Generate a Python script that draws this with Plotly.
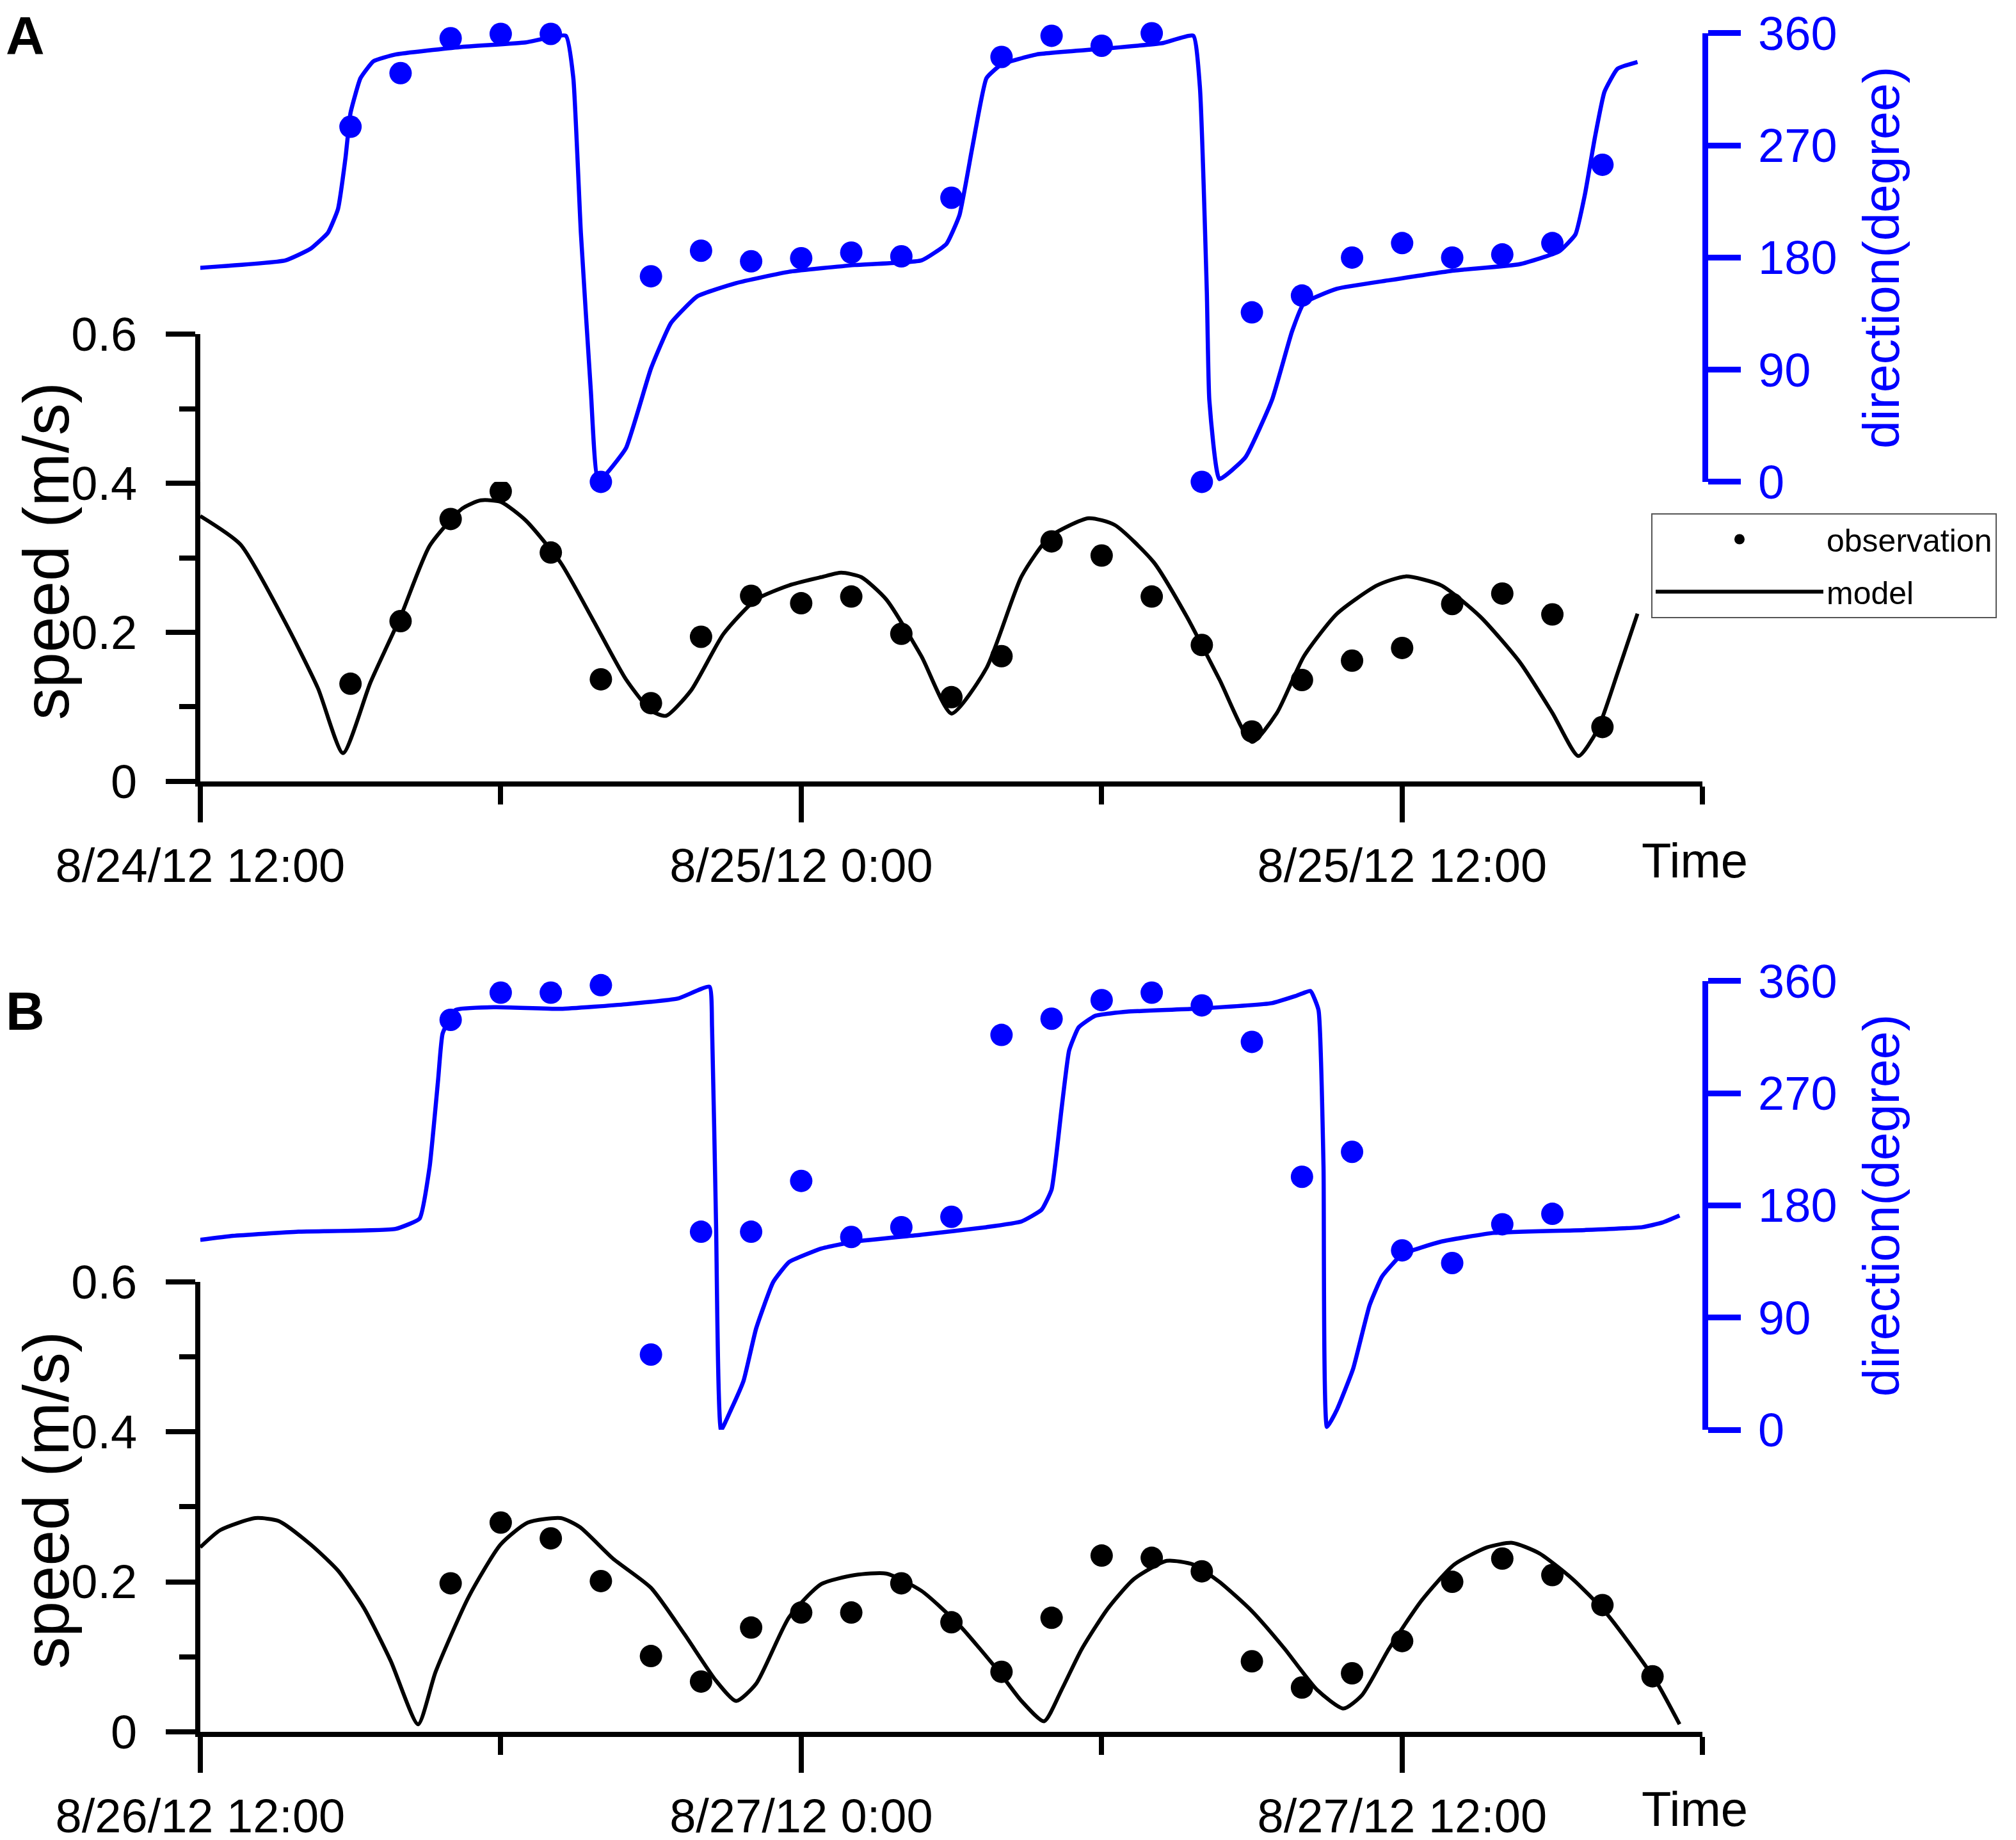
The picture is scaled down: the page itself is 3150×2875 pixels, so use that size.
import pandas as pd
import plotly.graph_objects as go

# ---- data (hours after the panel start time) ----
start_a = pd.Timestamp("2012-08-24 12:00")
start_b = pd.Timestamp("2012-08-26 12:00")
tick_text_a = ["8/24/12 12:00", "8/25/12 0:00", "8/25/12 12:00"]
tick_text_b = ["8/26/12 12:00", "8/27/12 0:00", "8/27/12 12:00"]
tick_hours = [0, 12, 24]

# panel A observations
obs_a_hours = [3, 4, 5, 6, 7, 8, 9, 10, 11, 12, 13, 14, 15, 16, 17, 18, 19, 20,
               21, 22, 23, 24, 25, 26, 27, 28]
obs_a_speed = [0.131, 0.215, 0.352, 0.389, 0.307, 0.137, 0.105, 0.194, 0.249,
               0.239, 0.248, 0.198, 0.113, 0.168, 0.322, 0.303, 0.248, 0.183,
               0.067, 0.136, 0.162, 0.179, 0.238, 0.252, 0.224, 0.073]
obs_a_dir = [285, 328, 356, 359.5, 359.5, 0, 165, 185.5, 177, 179.5, 184, 181,
             228, 341, 358, 350, 360, 0, 136, 149.5, 180, 191.6, 180, 182.5,
             191.6, 254.5]

# panel A model speed
mod_a_speed_hours = [0, 0.8, 1.7, 2.35, 2.85, 3.4, 4.0, 4.58, 5.23, 5.6, 6.0, 6.5,
                     7.2, 7.84, 8.5, 9.0, 9.3, 9.8, 10.45, 11.1, 11.76, 12.4,
                     12.8, 13.2, 13.7, 14.4, 15.0, 15.7, 16.4, 16.96, 17.74,
                     18.26, 19.04, 19.7, 20.35, 21.0, 21.5, 22.04, 22.7, 23.5,
                     24.07, 24.78, 25.56, 26.35, 27.0, 27.52, 27.9, 28.3, 28.7]
mod_a_speed = [0.356, 0.318, 0.213, 0.125, 0.038, 0.133, 0.221, 0.316, 0.366,
               0.377, 0.375, 0.35, 0.293, 0.217, 0.137, 0.095, 0.088, 0.122,
               0.198, 0.244, 0.263, 0.274, 0.28, 0.274, 0.244, 0.168, 0.091,
               0.152, 0.275, 0.328, 0.353, 0.344, 0.294, 0.221, 0.137, 0.053,
               0.092, 0.168, 0.225, 0.263, 0.275, 0.263, 0.221, 0.160, 0.092,
               0.034, 0.069, 0.145, 0.225]

# panel A model direction
mod_a_dir_hours = [0, 1.7, 2.2, 2.55, 2.75, 2.9, 3.0, 3.2, 3.46, 3.9, 5.2, 6.5,
                   7.3, 7.45, 7.6, 7.8, 7.93, 8.07, 8.5, 9.0, 9.4, 9.93, 10.7,
                   11.76, 13.07, 14.4, 14.9, 15.16, 15.42, 15.7, 16.0, 16.7,
                   18.0, 19.2, 19.83, 19.96, 20.1, 20.15, 20.35, 20.87, 21.4,
                   21.8, 22.04, 22.7, 23.74, 25.04, 26.35, 27.13, 27.46, 27.65,
                   27.85, 28.04, 28.3, 28.7]
mod_a_dir = [171.8, 177.7, 187, 200, 219, 260, 296, 324, 337.6, 343, 349, 352.7,
             358, 324, 200, 72.6, 4, 5, 27, 91, 127.5, 149, 159.5, 168.6, 174,
             177.7, 191, 214, 269, 324, 335, 343, 347.5, 352, 358, 317.7, 152.7,
             65.6, 2.3, 19.7, 65.6, 120.6, 143.5, 155, 161.8, 169.6, 174.7,
             184.8, 198.5, 230.6, 276.5, 313, 331.5, 337]

# panel B observations
obs_b_dir_hours = [5, 6, 7, 8, 9, 10, 11, 12, 13, 14, 15, 16, 17, 18, 19, 20, 21,
                   22, 23, 24, 25, 26, 27]
obs_b_dir = [328.9, 350.7, 350.7, 356.7, 60.4, 158.9, 158.9, 199.7, 154.7, 162.6,
             170.9, 316.8, 329.8, 344.7, 350.7, 340.5, 311.2, 203, 223, 144,
             133.8, 164.9, 173.3]
obs_b_speed_hours = [5, 6, 7, 8, 9, 10, 11, 12, 13, 14, 15, 16, 17, 18, 19, 20,
                     21, 22, 23, 24, 25, 26, 27, 28, 29]
obs_b_speed = [0.198, 0.279, 0.258, 0.201, 0.101, 0.067, 0.139, 0.159, 0.159,
               0.198, 0.146, 0.080, 0.152, 0.235, 0.232, 0.214, 0.094, 0.059,
               0.078, 0.121, 0.2, 0.231, 0.209, 0.169, 0.074]

# panel B model speed
mod_b_speed_hours = [0, 0.4, 1.1, 1.57, 2.2, 2.75, 3.27, 3.8, 4.35, 4.7, 5.36, 6.0,
                     6.54, 7.2, 7.58, 8.24, 9.0, 9.67, 10.3, 10.7, 11.1, 11.76,
                     12.4, 13.07, 13.7, 14.4, 15.16, 15.95, 16.4, 16.85, 17.2,
                     17.6, 18.13, 18.65, 19.3, 19.83, 20.35, 21.0, 21.65, 22.3,
                     22.83, 23.2, 23.74, 24.4, 25.04, 25.7, 26.2, 26.74, 27.4,
                     28.04, 28.7, 29.1, 29.54]
mod_b_speed = [0.246, 0.269, 0.285, 0.281, 0.25, 0.215, 0.165, 0.095, 0.01, 0.08,
               0.18, 0.25, 0.279, 0.285, 0.273, 0.231, 0.192, 0.13, 0.068, 0.041,
               0.064, 0.153, 0.197, 0.209, 0.211, 0.188, 0.142, 0.08, 0.041,
               0.014, 0.056, 0.11, 0.165, 0.204, 0.228, 0.223, 0.2, 0.161, 0.111,
               0.056, 0.031, 0.049, 0.111, 0.176, 0.223, 0.246, 0.252, 0.238,
               0.204, 0.161, 0.103, 0.064, 0.01]

# panel B model direction
mod_b_dir_hours = [0, 0.65, 1.96, 3.9, 4.38, 4.58, 4.75, 4.84, 5.1, 5.9, 7.2, 8.5,
                   9.54, 10.17, 10.22, 10.3, 10.4, 10.6, 10.85, 11.1, 11.44,
                   11.76, 12.4, 13.07, 14.4, 15.7, 16.4, 16.8, 17.0, 17.2, 17.35,
                   17.54, 17.87, 18.5, 19.83, 21.4, 21.9, 22.17, 22.33, 22.43,
                   22.5, 22.7, 23.02, 23.35, 23.6, 24.0, 24.78, 25.83, 27.65,
                   28.8, 29.2, 29.54]
mod_b_dir = [152.4, 155.6, 158.9, 161.2, 169.5, 211, 281, 318, 336.8, 339, 337.7,
             341.4, 346, 355.4, 322.8, 165, 0, 16.3, 39.5, 81.3, 118.5, 134.7,
             145.4, 151, 156.5, 162.6, 167.2, 176.5, 192.8, 257.8, 304.3, 322.8,
             332.1, 335.4, 337.7, 342.3, 348.4, 352, 336.8, 211.4, 2.3, 16.3,
             48.8, 99.9, 123, 140.7, 151, 158, 160.3, 162.6, 166.3, 171.9]

FONT = "Liberation Sans, Arial, sans-serif"
BLUE = "#0000ff"
TICK_SIZE = 74


def to_time(start, hours):
    return [start + pd.Timedelta(hours=h) for h in hours]


fig = go.Figure()

panels = [
    (start_a, "x", "y", "y2", obs_a_hours, obs_a_speed, obs_a_hours, obs_a_dir,
     mod_a_speed_hours, mod_a_speed, mod_a_dir_hours, mod_a_dir, True),
    (start_b, "x2", "y3", "y4", obs_b_speed_hours, obs_b_speed, obs_b_dir_hours,
     obs_b_dir, mod_b_speed_hours, mod_b_speed, mod_b_dir_hours, mod_b_dir, False),
]

for (start, xa, ys, yd, osh, osv, odh, odv, msh, msv, mdh, mdv, legend) in panels:
    fig.add_trace(go.Scatter(
        x=to_time(start, osh), y=osv, mode="markers", name="observation",
        marker=dict(color="black", size=35), xaxis=xa, yaxis=ys,
        legendgroup="obs", showlegend=legend, cliponaxis=False))
    fig.add_trace(go.Scatter(
        x=to_time(start, msh), y=msv, mode="lines", name="model",
        line=dict(color="black", width=6, shape="spline", smoothing=0.6),
        xaxis=xa, yaxis=ys, legendgroup="mod", showlegend=legend))
    fig.add_trace(go.Scatter(
        x=to_time(start, odh), y=odv, mode="markers", name="observation",
        marker=dict(color=BLUE, size=35), xaxis=xa, yaxis=yd,
        legendgroup="obs", showlegend=False, cliponaxis=False))
    fig.add_trace(go.Scatter(
        x=to_time(start, mdh), y=mdv, mode="lines", name="model",
        line=dict(color=BLUE, width=6.5, shape="spline", smoothing=0.4),
        xaxis=xa, yaxis=yd, legendgroup="mod", showlegend=False))


def x_axis(start, texts, anchor):
    return dict(
        domain=[0.0968, 0.842], anchor=anchor, type="date",
        range=[start, start + pd.Timedelta(hours=30)],
        tickvals=to_time(start, tick_hours), ticktext=texts,
        ticks="outside", ticklen=56, tickwidth=8, tickcolor="black",
        showline=True, linecolor="black", linewidth=8,
        showgrid=False, zeroline=False, automargin=False,
        tickfont=dict(size=TICK_SIZE, color="black", family=FONT),
        ticklabelstandoff=4,
        minor=dict(dtick=6 * 3600 * 1000, tick0=start, ticks="outside",
                   ticklen=28, tickwidth=8, tickcolor="black", showgrid=False),
    )


def speed_axis(domain, anchor):
    return dict(
        domain=domain, anchor=anchor, range=[0, 0.6], tick0=0, dtick=0.2,
        ticks="outside", ticklen=46, tickwidth=8, tickcolor="black",
        showline=True, linecolor="black", linewidth=8,
        showgrid=False, zeroline=False, automargin=False,
        tickfont=dict(size=TICK_SIZE, color="black", family=FONT),
        ticklabelstandoff=30,
        minor=dict(dtick=0.1, tick0=0, ticks="outside", ticklen=25,
                   tickwidth=8, tickcolor="black", showgrid=False),
    )


def dir_axis(domain, anchor):
    return dict(
        domain=domain, anchor=anchor, side="right", range=[0, 360],
        tick0=0, dtick=90, ticks="outside", ticklen=51, tickwidth=9,
        tickcolor=BLUE, showline=True, linecolor=BLUE, linewidth=9,
        showgrid=False, zeroline=False, automargin=False,
        tickfont=dict(size=TICK_SIZE, color=BLUE, family=FONT),
        ticklabelstandoff=12,
        title=dict(text="direction(degree)", standoff=46,
                   font=dict(size=79, color=BLUE, family=FONT)),
    )


fig.update_layout(
    width=3150, height=2875,
    margin=dict(l=0, r=0, t=0, b=0),
    paper_bgcolor="white", plot_bgcolor="white",
    font=dict(family=FONT, color="black"),
    xaxis=x_axis(start_a, tick_text_a, "y"),
    xaxis2=x_axis(start_b, tick_text_b, "y3"),
    yaxis=speed_axis([0.5781, 0.8212], "x"),
    yaxis2=dir_axis([0.7409, 0.9847], "x"),
    yaxis3=speed_axis([0.0616, 0.3061], "x2"),
    yaxis4=dir_axis([0.2257, 0.4696], "x2"),
    legend=dict(x=0.8165, y=0.724, xanchor="left", yanchor="top",
                bgcolor="white", bordercolor="#555", borderwidth=2,
                font=dict(size=50, color="black", family=FONT),
                itemwidth=262, tracegroupgap=14),
)

# speed axis titles (left), centred on each speed axis
for ymid in [0.7032, 0.1874]:
    fig.add_annotation(text="speed (m/s)", xref="paper", yref="paper",
                       x=0.0205, y=ymid, xanchor="center", yanchor="middle",
                       textangle=-90, showarrow=False, borderpad=0,
                       font=dict(size=100, color="black", family=FONT))

# panel letters and the "Time" labels at the end of each time axis
for letter, ypos in [("<b>A</b>", 1.0), ("<b>B</b>", 0.4698)]:
    fig.add_annotation(text=letter, xref="paper", yref="paper", x=0.0,
                       y=ypos, xanchor="left", yanchor="top", showarrow=False,
                       borderpad=0,
                       font=dict(size=84, color="black", family=FONT))
for start, xref, ypos in [(start_a, "x", 0.535), (start_b, "x2", 0.0195)]:
    fig.add_annotation(text="Time", xref=xref, yref="paper",
                       x=start + pd.Timedelta(hours=30), y=ypos, xshift=-12,
                       xanchor="center", yanchor="middle", showarrow=False,
                       font=dict(size=76, color="black", family=FONT))

fig.write_html("out.html")
